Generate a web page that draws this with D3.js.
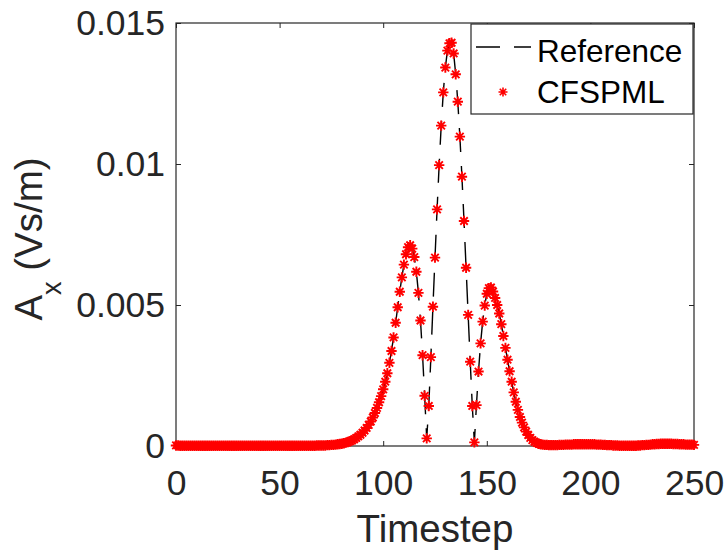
<!DOCTYPE html>
<html>
<head>
<meta charset="utf-8">
<script src="https://cdn.jsdelivr.net/npm/d3@7"></script>
<style>
  html, body { margin: 0; padding: 0; background: #ffffff; }
  svg { display: block; font-family: "Liberation Sans", Arial, Helvetica, sans-serif; }
</style>
</head>
<body>
<svg id="chart" width="728" height="551"></svg>
<script>
// Axis ticks
const xTicks = [0, 50, 100, 150, 200, 250];
const xTickLabels = ["0", "50", "100", "150", "200", "250"];
const yTicks = [0, 0.005, 0.01, 0.015];
const yTickLabels = ["0", "0.005", "0.01", "0.015"];

const seriesNames = ["Reference", "CFSPML"];

// |A_x| at the probe, one value per timestep 0..250
const reference = [
  0.00002, 0.00002, 0.00001, 0.00001, 0.00001, 0.00001, 0.00001, 0.00001, 0.00001, 0.00001,
  0.00001, 0.00001, 0.00001, 0.00001, 0.00001, 0.00001, 0.00001, 0.00001, 0.00001, 0.00001,
  0.00001, 0.00001, 0.00001, 0.00001, 0.00001, 0.00001, 0.00001, 0.00001, 0.00001, 0.00001,
  0.00001, 0.00001, 0.00001, 0.00001, 0.00001, 0.00001, 0.00001, 0.00001, 0.00001, 0.00001,
  0.00001, 0.00001, 0.00001, 0.00001, 0.00001, 0.00001, 0.00001, 0.00001, 0.00001, 0.00001,
  0.00001, 0.00001, 0.00001, 0.00001, 0.00001, 0.00001, 0.00001, 0.00001, 0.00001, 0.00001,
  0.00001, 0.00001, 0.00001, 0.00001, 0.00001, 0.00001, 0.00001, 0.00001, 0.00002, 0.00002,
  0.00002, 0.00002, 0.00002, 0.00003, 0.00003, 0.00004, 0.00004, 0.00005, 0.00006, 0.00007,
  0.00008, 0.00010, 0.00012, 0.00014, 0.00017, 0.00020, 0.00024, 0.00029, 0.00034, 0.00040,
  0.00047, 0.00055, 0.00064, 0.00075, 0.00087, 0.00101, 0.00117, 0.00135, 0.00155, 0.00177,
  0.00201, 0.00228, 0.00258, 0.00295, 0.00337, 0.00385, 0.00437, 0.00492, 0.00547, 0.00598,
  0.00643, 0.00680, 0.00705, 0.00712, 0.00700, 0.00670, 0.00618, 0.00543, 0.00445, 0.00322,
  0.00178, 0.00027, 0.00142, 0.00315, 0.00494, 0.00668, 0.00839, 0.00996, 0.01136, 0.01254,
  0.01342, 0.01402, 0.01428, 0.01430, 0.01392, 0.01318, 0.01221, 0.01097, 0.00955, 0.00798,
  0.00632, 0.00465, 0.00299, 0.00142, 0.00013, 0.00145, 0.00264, 0.00364, 0.00441, 0.00498,
  0.00540, 0.00560, 0.00562, 0.00548, 0.00525, 0.00500, 0.00470, 0.00432, 0.00390, 0.00348,
  0.00306, 0.00265, 0.00228, 0.00190, 0.00157, 0.00128, 0.00103, 0.00083, 0.00066, 0.00051,
  0.00039, 0.00029, 0.00021, 0.00015, 0.00011, 0.00008, 0.00006, 0.00005, 0.00004, 0.00004,
  0.00003, 0.00003, 0.00003, 0.00003, 0.00003, 0.00004, 0.00004, 0.00004, 0.00005, 0.00005,
  0.00005, 0.00005, 0.00006, 0.00006, 0.00006, 0.00006, 0.00006, 0.00006, 0.00006, 0.00006,
  0.00006, 0.00006, 0.00006, 0.00005, 0.00005, 0.00005, 0.00004, 0.00004, 0.00003, 0.00003,
  0.00003, 0.00002, 0.00002, 0.00002, 0.00001, 0.00001, 0.00001, 0.00001, 0.00001, 0.00001,
  0.00001, 0.00001, 0.00001, 0.00002, 0.00002, 0.00003, 0.00003, 0.00004, 0.00004, 0.00005,
  0.00006, 0.00006, 0.00007, 0.00007, 0.00008, 0.00008, 0.00008, 0.00008, 0.00008, 0.00008,
  0.00007, 0.00007, 0.00007, 0.00006, 0.00006, 0.00006, 0.00005, 0.00005, 0.00005, 0.00005,
  0.00004
];

// The CFSPML run lies on top of the reference solution
const cfspml = reference.slice();

const timesteps = reference.map((_, i) => i);

const svg = d3.select("#chart");
const ink = "#262626";

const plot = { left: 176, right: 694, top: 23, bottom: 446 };

const x = d3.scaleLinear().domain([0, 250]).range([plot.left, plot.right]);
const y = d3.scaleLinear().domain([0, 0.015]).range([plot.bottom, plot.top]);

// Axes (ticks pointing inward, box on)
const bottomAxis = d3.axisBottom(x).tickValues(xTicks)
  .tickFormat((d, i) => xTickLabels[i]).tickSize(-5).tickPadding(24);
const leftAxis = d3.axisLeft(y).tickValues(yTicks)
  .tickFormat((d, i) => yTickLabels[i]).tickSize(-5).tickPadding(11);
const topAxis = d3.axisTop(x).tickValues(xTicks).tickFormat("").tickSize(-5);
const rightAxis = d3.axisRight(y).tickValues(yTicks).tickFormat("").tickSize(-5);

function styleAxis(g) {
  g.select(".domain").remove();
  g.selectAll(".tick line").attr("stroke", ink).attr("stroke-width", 1);
  g.selectAll(".tick text").attr("fill", ink)
    .style("font-family", '"Liberation Sans", Arial, sans-serif')
    .style("font-size", "35.5px");
}

svg.append("g").attr("transform", `translate(0,${plot.bottom})`).call(bottomAxis).call(styleAxis);
svg.append("g").attr("transform", `translate(${plot.left},0)`).call(leftAxis).call(styleAxis);
svg.append("g").attr("transform", `translate(0,${plot.top})`).call(topAxis).call(styleAxis);
svg.append("g").attr("transform", `translate(${plot.right},0)`).call(rightAxis).call(styleAxis);

// Box
svg.append("rect")
  .attr("x", plot.left).attr("y", plot.top)
  .attr("width", plot.right - plot.left).attr("height", plot.bottom - plot.top)
  .attr("fill", "none").attr("stroke", ink).attr("stroke-width", 1.2);

// Reference: dashed black line
const line = d3.line()
  .x((d, i) => x(timesteps[i]))
  .y(d => y(d));

const dash = "24,14";

svg.append("path")
  .datum(reference)
  .attr("d", line)
  .attr("fill", "none")
  .attr("stroke", "#000000")
  .attr("stroke-width", 1.4)
  .attr("stroke-dasharray", dash);

// CFSPML: red asterisk markers
function starPath(r) {
  const a = r * 0.72;
  return `M${-r},0H${r}M0,${-r}V${r}M${-a},${-a}L${a},${a}M${-a},${a}L${a},${-a}`;
}
const star = starPath(5.2);

svg.append("g")
  .selectAll("path")
  .data(cfspml)
  .join("path")
  .attr("transform", (d, i) => `translate(${x(timesteps[i])},${y(d)})`)
  .attr("d", star)
  .attr("fill", "none")
  .attr("stroke", "#ff0000")
  .attr("stroke-width", 1.9);

// Axis labels
svg.append("text")
  .attr("x", (plot.left + plot.right) / 2)
  .attr("y", 542)
  .attr("text-anchor", "middle")
  .attr("fill", ink)
  .style("font-size", "38.5px")
  .text("Timestep");

const yLabel = svg.append("text")
  .attr("transform", "translate(41.7,239) rotate(-90)")
  .attr("text-anchor", "middle")
  .attr("fill", ink)
  .style("font-size", "38.5px");
yLabel.append("tspan").text("A");
yLabel.append("tspan").attr("dy", 19).style("font-size", "27px").text("x");
yLabel.append("tspan").attr("dy", -19).text(" (Vs/m)");

// Legend
const legend = svg.append("g");
legend.append("rect")
  .attr("x", 471).attr("y", 24).attr("width", 222).attr("height", 90)
  .attr("fill", "#ffffff").attr("stroke", ink).attr("stroke-width", 1.2);

legend.append("line")
  .attr("x1", 476).attr("x2", 531).attr("y1", 47).attr("y2", 47)
  .attr("stroke", "#000000").attr("stroke-width", 1.4)
  .attr("stroke-dasharray", dash);
legend.append("path")
  .attr("transform", "translate(503,92)")
  .attr("d", starPath(4.5))
  .attr("fill", "none").attr("stroke", "#ff0000").attr("stroke-width", 1.6);

legend.selectAll("text.entry")
  .data(seriesNames)
  .join("text")
  .attr("class", "entry")
  .attr("x", 537)
  .attr("y", (d, i) => [62, 103][i])
  .attr("fill", "#000000")
  .style("font-size", "31.5px")
  .text(d => d);
</script>
</body>
</html>
